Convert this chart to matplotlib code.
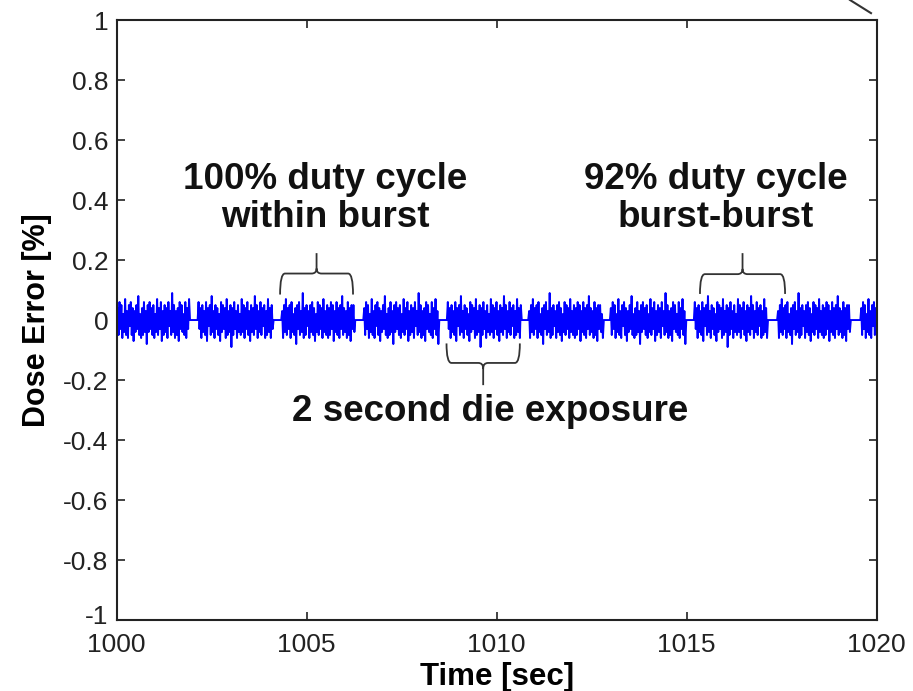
import numpy as np
import matplotlib
matplotlib.use("Agg")
import matplotlib.pyplot as plt
from matplotlib.path import Path
from matplotlib.patches import PathPatch
from matplotlib.lines import Line2D
from matplotlib.transforms import ScaledTranslation

plt.rcParams['font.family'] = ['Liberation Sans', 'DejaVu Sans']

# burst timing [sec]
burst_start = [1000.00, 1002.13, 1004.33, 1006.49, 1008.69,
               1010.83, 1012.98, 1015.19, 1017.38, 1019.57]
burst_end = [1001.93, 1004.13, 1006.28, 1008.49, 1010.66,
             1012.82, 1014.99, 1017.14, 1019.32, 1020.00]

# dose error samples [%] inside a burst (three hand-read noise traces)
noise_a = [0.04, -0.05, 0.06, -0.03, 0.05, -0.06, 0.02, -0.04, 0.07, -0.05,
           0.03, -0.06, 0.05, -0.02, 0.06, -0.05, 0.04, -0.07, 0.03, -0.04,
           0.05, -0.03, 0.08, -0.05, 0.02, -0.06, 0.04, -0.05, 0.06, -0.04,
           0.03, -0.08, 0.05, -0.04, 0.06, -0.03, 0.04, -0.05, 0.05, -0.06,
           0.02, -0.04, 0.07, -0.05, 0.04, -0.03, 0.06, -0.07, 0.03, -0.05,
           0.05, -0.04, 0.04, -0.06, 0.06, -0.02, 0.03, -0.05, 0.09, -0.04,
           0.05, -0.06, 0.03, -0.05, 0.04, -0.07, 0.06, -0.03, 0.05, -0.04,
           0.02, -0.05, 0.06, -0.06, 0.04, -0.03, 0.07, -0.05, 0.03, -0.08]
noise_b = [0.06, -0.03, 0.04, -0.06, 0.05, -0.04, 0.03, -0.05, 0.06, -0.07,
           0.04, -0.02, 0.05, -0.05, 0.08, -0.04, 0.03, -0.06, 0.05, -0.03,
           0.04, -0.05, 0.02, -0.07, 0.06, -0.04, 0.05, -0.03, 0.04, -0.06,
           0.07, -0.05, 0.03, -0.04, 0.05, -0.09, 0.04, -0.05, 0.06, -0.03,
           0.03, -0.06, 0.05, -0.04, 0.02, -0.05, 0.07, -0.04, 0.05, -0.06,
           0.04, -0.03, 0.06, -0.05, 0.03, -0.07, 0.05, -0.04, 0.04, -0.05,
           0.08, -0.03, 0.05, -0.06, 0.03, -0.04, 0.06, -0.05, 0.04, -0.02,
           0.05, -0.06, 0.03, -0.05, 0.07, -0.04, 0.04, -0.06, 0.05, -0.03]
noise_c = [0.03, -0.06, 0.05, -0.04, 0.07, -0.05, 0.04, -0.03, 0.05, -0.06,
           0.06, -0.04, 0.02, -0.05, 0.04, -0.08, 0.05, -0.03, 0.06, -0.05,
           0.03, -0.04, 0.09, -0.06, 0.04, -0.05, 0.05, -0.02, 0.03, -0.06,
           0.05, -0.04, 0.06, -0.05, 0.04, -0.07, 0.02, -0.04, 0.06, -0.05,
           0.05, -0.03, 0.04, -0.06, 0.07, -0.04, 0.03, -0.05, 0.05, -0.06,
           0.04, -0.05, 0.06, -0.03, 0.05, -0.07, 0.03, -0.04, 0.06, -0.05,
           0.04, -0.06, 0.05, -0.03, 0.08, -0.05, 0.04, -0.04, 0.03, -0.06,
           0.06, -0.05, 0.04, -0.07, 0.05, -0.03, 0.05, -0.04, 0.02, -0.06]
burst_noise = [noise_a, noise_b, noise_c, noise_a, noise_b,
               noise_c, noise_a, noise_b, noise_c, noise_a]

x_ticks = [1000, 1005, 1010, 1015, 1020]
y_ticks = [-1, -0.8, -0.6, -0.4, -0.2, 0, 0.2, 0.4, 0.6, 0.8, 1]
y_tick_labels = ['-1', '-0.8', '-0.6', '-0.4', '-0.2', '0',
                 '0.2', '0.4', '0.6', '0.8', '1']

# annotation braces: x0, x1, y at ends, y of bar, y of tip
braces = [(1004.30, 1006.22, 0.085, 0.155, 0.223),
          (1008.68, 1010.61, -0.078, -0.143, -0.217),
          (1015.35, 1017.59, 0.087, 0.153, 0.223)]


def draw_brace(ax, x0, x1, y_end, y_bar, y_tip):
    xm = (x0 + x1) / 2
    dx = 0.13
    dy = (y_tip - y_bar) * 0.25
    verts = [(x0, y_end), (x0, y_bar), (x0 + dx, y_bar),
             (xm - dx, y_bar), (xm, y_bar), (xm, y_bar + dy),
             (xm, y_tip),
             (xm, y_bar + dy), (xm, y_bar), (xm + dx, y_bar),
             (x1 - dx, y_bar), (x1, y_bar), (x1, y_end)]
    codes = [Path.MOVETO, Path.CURVE3, Path.CURVE3,
             Path.LINETO, Path.CURVE3, Path.CURVE3,
             Path.LINETO,
             Path.MOVETO, Path.CURVE3, Path.CURVE3,
             Path.LINETO, Path.CURVE3, Path.CURVE3]
    ax.add_patch(PathPatch(Path(verts, codes), fill=False,
                           edgecolor='#333333', lw=1.3))


fig = plt.figure(figsize=(9.13, 6.91), dpi=100)
ax = fig.add_axes([0.1278, 0.1027, 0.8324, 0.8683])

# build the trace: noise inside each burst, flat zero between bursts
t_all = []
y_all = []
for t0, t1, noise in zip(burst_start, burst_end, burst_noise):
    n = max(2, int(round(len(noise) * (t1 - t0) / 2.0)))
    vals = noise[:n]
    t = np.linspace(t0, t1, len(vals) + 2)
    t_all.extend(t)
    y_all.extend([0.0] + list(vals) + [0.0])

ax.plot(t_all, y_all, color='#0000ff', lw=1.4)

for b in braces:
    draw_brace(ax, *b)

text_kw = dict(fontsize=26.5, fontweight='bold', color='#111111',
               ha='center', va='center', linespacing=1.12)
ax.text(1005.48, 0.405, '100% duty cycle\nwithin burst', **text_kw)
ax.text(1015.77, 0.405, '92% duty cycle\nburst-burst', **text_kw)
ax.text(1009.82, -0.305, '2 second die exposure', **text_kw)

ax.set_xlim(1000, 1020)
ax.set_ylim(-1, 1)
ax.set_xticks(x_ticks)
ax.set_xticklabels([str(v) for v in x_ticks])
ax.set_yticks(y_ticks)
ax.set_yticklabels(y_tick_labels)
ax.tick_params(direction='in', length=6, width=1.2, labelsize=19,
               top=True, right=True, colors='#222222')
ax.tick_params(axis='x', pad=9)
ax.tick_params(axis='y', pad=6)
for s in ax.spines.values():
    s.set_linewidth(1.5)
    s.set_color('#222222')

# lift the "-1" label a little, as in the original, so it clears "1000"
lbl = ax.get_yticklabels()[0]
lbl.set_transform(lbl.get_transform() + ScaledTranslation(0, 4 / 72, fig.dpi_scale_trans))

ax.set_xlabel('Time [sec]', fontsize=22.5, fontweight='bold', labelpad=4)
ax.set_ylabel('Dose Error [%]', fontsize=22, fontweight='bold', labelpad=8)

# stray diagonal stroke at the top right of the crop
fig.add_artist(Line2D([0.931, 0.954], [1.0, 0.981], color='#333333',
                      lw=1.5, transform=fig.transFigure))

fig.savefig('out.png', dpi=100)
